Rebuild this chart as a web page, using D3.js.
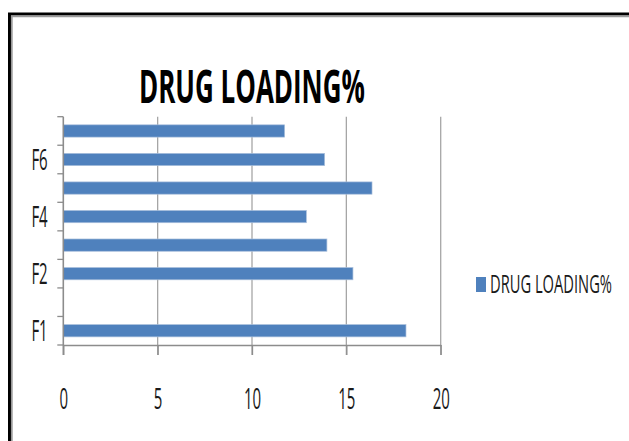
<!DOCTYPE html>
<html>
<head>
<meta charset="utf-8">
<script src="https://cdn.jsdelivr.net/npm/d3@7"></script>
<style>
  html, body { margin: 0; padding: 0; background: #fff; }
  svg { display: block; }
  text { font-family: "Open Sans", "Liberation Sans", sans-serif; fill: #1a1a1a; }
</style>
</head>
<body>
<svg id="chart" width="629" height="441"></svg>
<script>
// Formulations, bottom to top (second slot has no value)
const categories = ["F1", "", "F2", "F3", "F4", "F5", "F6", "F7"];
const drugLoading = [18.16, null, 15.35, 13.97, 12.88, 16.36, 13.85, 11.73];
const shownLabels = ["F1", "F2", "F4", "F6"];
const xTicks = [0, 5, 10, 15, 20];
const seriesName = "DRUG LOADING%";
const titleText = "DRUG LOADING%";

const data = categories.map((c, i) => ({ cat: c, value: drugLoading[i] }));

const svg = d3.select("#chart");
const barColor = "#4f81bd";

// Places a text with its left edge at (x, y) and squeezes it to the given width
function fitText(sel, x, y, width) {
  const natural = sel.node().getComputedTextLength();
  sel.attr("x", 0).attr("y", 0)
    .attr("transform", `translate(${x},${y}) scale(${width / natural},1)`);
}

// Outer frame (black with a grey inner edge)
svg.append("path")
  .attr("d", "M9.5,441 L9.5,14 L629,14")
  .attr("fill", "none").attr("stroke", "#000").attr("stroke-width", 3);
svg.append("path")
  .attr("d", "M11.8,441 L11.8,16.3 L629,16.3")
  .attr("fill", "none").attr("stroke", "#9a9a9a").attr("stroke-width", 1.8);

const plot = { left: 63.3, right: 440.7, top: 116.7, bottom: 345 };

const x = d3.scaleLinear().domain([0, 20]).range([plot.left, plot.right]);
const y = d3.scaleBand().domain(categories).range([plot.bottom, plot.top]);

// Vertical gridlines, extended below the axis as tick marks
svg.append("g").selectAll("line")
  .data(xTicks.slice(1))
  .join("line")
  .attr("x1", d => x(d)).attr("x2", d => x(d))
  .attr("y1", plot.top).attr("y2", plot.bottom + 10)
  .attr("stroke", "#a6a6a6").attr("stroke-width", 1.3);

// Bars
const barH = y.bandwidth() * 0.43;
svg.append("g").selectAll("rect")
  .data(data.filter(d => d.value != null))
  .join("rect")
  .attr("x", x(0))
  .attr("y", d => y(d.cat) + (y.bandwidth() - barH) / 2)
  .attr("width", d => x(d.value) - x(0))
  .attr("height", barH)
  .attr("fill", barColor)
  .attr("stroke", "#a9bfdc").attr("stroke-width", 0.7);

// X axis
const xAxis = svg.append("g")
  .attr("transform", `translate(0,${plot.bottom})`)
  .call(d3.axisBottom(x).tickValues(xTicks).tickSize(10).tickSizeOuter(0));
xAxis.select(".domain").attr("stroke", "#8c8c8c").attr("stroke-width", 1.6);
xAxis.selectAll(".tick line").attr("stroke", "#8c8c8c").attr("stroke-width", 1.3);
xAxis.selectAll(".tick text")
  .attr("x", 0).attr("y", 0).attr("dy", null)
  .attr("transform", "translate(0,64) scale(0.5,1)")
  .attr("text-anchor", "middle")
  .style("font-size", "30px").style("fill", "#1a1a1a");

// Y axis: labels centred on bands, ticks on band boundaries
const yAxis = svg.append("g")
  .attr("transform", `translate(${plot.left},0)`)
  .call(d3.axisLeft(y).tickValues(shownLabels).tickSize(0));
yAxis.select(".domain").remove();
yAxis.selectAll(".tick text")
  .attr("x", 0).attr("dy", null)
  .attr("transform", "translate(-15.6,10.5) scale(0.5,1)")
  .attr("text-anchor", "end")
  .style("font-size", "30px").style("fill", "#1a1a1a");

const boundaries = categories.map(c => y(c) + y.bandwidth()).concat([y(categories[categories.length - 1])]);
svg.append("g").selectAll("line")
  .data(boundaries)
  .join("line")
  .attr("x1", plot.left - 6).attr("x2", plot.left)
  .attr("y1", d => d).attr("y2", d => d)
  .attr("stroke", "#8c8c8c").attr("stroke-width", 1.3);
svg.append("line")
  .attr("x1", plot.left).attr("x2", plot.left)
  .attr("y1", plot.top).attr("y2", plot.bottom + 10)
  .attr("stroke", "#8c8c8c").attr("stroke-width", 1.6);

// Title
const title = svg.append("text")
  .style("font-size", "46px").style("font-weight", "bold").style("fill", "#000")
  .text(titleText);
fitText(title, 139, 103, 226);

// Legend
const legend = svg.append("g");
legend.append("rect")
  .attr("x", 476).attr("y", 277).attr("width", 10).attr("height", 15)
  .attr("fill", barColor);
const legendText = legend.append("text")
  .style("font-size", "25px")
  .text(seriesName);
fitText(legendText, 490, 293, 122);
</script>
</body>
</html>
